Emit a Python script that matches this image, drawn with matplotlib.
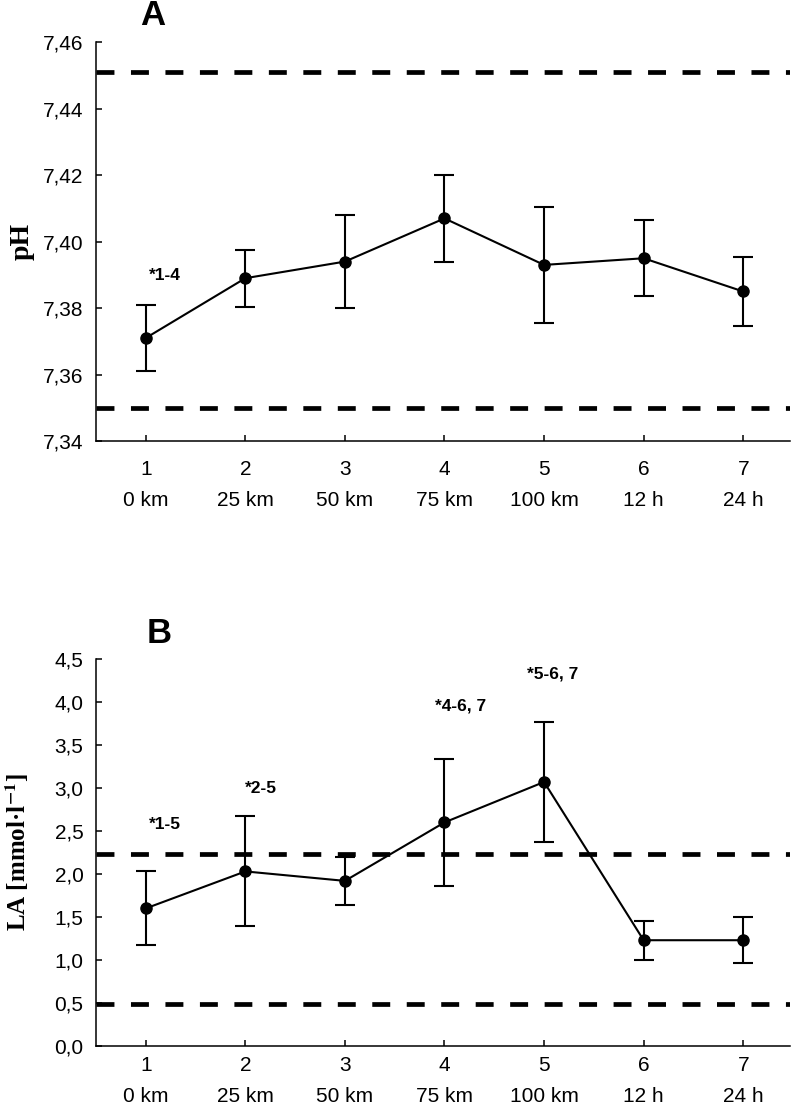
import matplotlib
matplotlib.use("Agg")
import matplotlib.pyplot as plt
from matplotlib.ticker import FuncFormatter

# measurement points
timepoints = [1, 2, 3, 4, 5, 6, 7]
tp_labels = ["0 km", "25 km", "50 km", "75 km", "100 km", "12 h", "24 h"]

# panel A: blood pH (mean, SD)
ph_mean = [7.371, 7.389, 7.394, 7.407, 7.393, 7.395, 7.385]
ph_sd = [0.010, 0.0086, 0.014, 0.013, 0.0175, 0.0114, 0.0105]
ph_ref = [7.350, 7.451]
ph_ticks = [7.34, 7.36, 7.38, 7.40, 7.42, 7.44, 7.46]
ph_notes = [("*1-4", 1.19, 7.3897)]

# panel B: lactate (mean, SD)
la_mean = [1.60, 2.03, 1.92, 2.60, 3.07, 1.23, 1.23]
la_sd = [0.43, 0.64, 0.28, 0.74, 0.70, 0.225, 0.27]
la_ref = [0.49, 2.23]
la_ticks = [0.0, 0.5, 1.0, 1.5, 2.0, 2.5, 3.0, 3.5, 4.0, 4.5]
la_notes = [
    ("*1-5", 1.19, 2.58),
    ("*2-5", 2.16, 2.99),
    ("*4-6, 7", 4.16, 3.95),
    ("*5-6, 7", 5.09, 4.32),
]

plt.rcParams["font.family"] = ["Liberation Sans", "DejaVu Sans"]
plt.rcParams["mathtext.fontset"] = "stix"

W, H = 796, 1118
fig = plt.figure(figsize=(W / 100, H / 100), dpi=100)

ax_a = fig.add_axes([96 / W, 1 - 441 / H, 694 / W, 398.7 / H])
ax_b = fig.add_axes([96 / W, 1 - 1046 / H, 694 / W, 387 / H])


def style_panel(ax, mean, sd, ref, ticks, notes, ylabel, letter, fmt, xpad):
    for r in ref:
        ax.axhline(r, color="black", lw=3.4, linestyle=(0, (3.8, 3.5)),
                   zorder=1)
    ax.errorbar(timepoints, mean, yerr=sd, color="black", lw=1.5,
                marker="o", markersize=8, capsize=7, capthick=1.5,
                elinewidth=1.5, zorder=3)
    for txt, x, y in notes:
        ax.text(x, y, txt, ha="center", va="center", fontsize=12.5,
                weight="bold")

    ax.set_xlim(0.5, 7.47)
    ax.set_ylim(ticks[0], ticks[-1])
    ax.set_yticks(ticks)
    ax.yaxis.set_major_formatter(
        FuncFormatter(lambda v, p: fmt.format(v).replace(".", ","))
    )
    ax.set_xticks(timepoints)
    ax.set_xticklabels(
        [f"{t}\n{lab}" for t, lab in zip(timepoints, tp_labels)],
        linespacing=1.78,
    )
    ax.tick_params(direction="in", length=4, width=1.1, labelsize=15)
    ax.tick_params(axis="x", pad=xpad)
    ax.tick_params(axis="y", pad=9)
    for side in ["top", "right"]:
        ax.spines[side].set_visible(False)
    for side in ["left", "bottom"]:
        ax.spines[side].set_linewidth(1.1)

    ax.text(letter[1], letter[2], letter[0], transform=ax.transAxes,
            ha="center", va="center", fontsize=25, weight="bold")
    ax.text(ylabel[1], 0.5, ylabel[0], transform=ax.transAxes,
            ha="center", va="center", rotation=90, fontsize=ylabel[2],
            weight="bold", family=["Liberation Serif", "DejaVu Serif"])


style_panel(ax_a, ph_mean, ph_sd, ph_ref, ph_ticks, ph_notes,
            ("pH", -0.107, 20), ("A", 0.082, 1.066), "{:.2f}", 14)
style_panel(ax_b, la_mean, la_sd, la_ref, la_ticks, la_notes,
            (r"LA [mmol·l$^{\mathbf{-1}}$]", -0.113, 18),
            ("B", 0.091, 1.067), "{:.1f}", 7.5)

fig.savefig("out.png", dpi=100)
